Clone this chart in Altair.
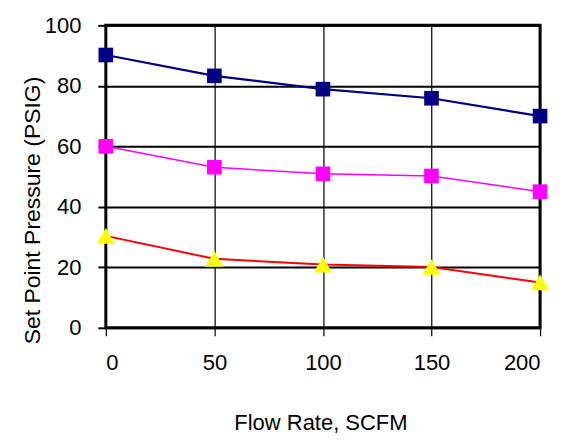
import altair as alt
import pandas as pd

flow = [0, 50, 100, 150, 200]
navy_vals = [90.2, 83.3, 78.9, 75.9, 70.0]
magenta_vals = [60.0, 53.1, 50.9, 50.2, 45.0]
red_vals = [30.4, 22.8, 20.9, 20.1, 15.0]

series = [
    ("A", navy_vals, "#000080", "#000080", "square", 2.2, 215),
    ("B", magenta_vals, "#FF00FF", "#FF00FF", "square", 1.5, 215),
    ("C", red_vals, "#FF0000", "#FFFF00", "triangle-up", 2.0, 330),
]

rows = []
for name, vals, lc, mc, shp, lw, sz in series:
    for f, v in zip(flow, vals):
        rows.append({"series": name, "flow": f, "psig": v, "lc": lc, "mc": mc,
                     "shp": shp, "lw": lw, "sz": sz})
df = pd.DataFrame(rows)

FONT = "Liberation Sans"

x = alt.X("flow:Q", scale=alt.Scale(domain=[0, 200], nice=False),
          axis=alt.Axis(values=[0, 50, 100, 150, 200], title="Flow Rate, SCFM",
                        grid=True, gridColor="black", gridWidth=1.2, gridOpacity=1,
                        domain=False, tickColor="black", tickSize=8, tickWidth=1.2,
                        labelFont=FONT, labelFontSize=22, labelColor="black", labelPadding=17,
                        titleFont=FONT, titleFontSize=22, titleFontWeight="normal", titleColor="black",
                        titleX=215, titleY=102, titleBaseline="alphabetic", titleAnchor="middle"))
y = alt.Y("psig:Q", scale=alt.Scale(domain=[0, 100], nice=False),
          axis=alt.Axis(values=[0, 20, 40, 60, 80, 100], title="Set Point Pressure (PSIG)",
                        grid=True, gridColor="black", gridWidth=2, gridOpacity=1,
                        domain=False, tickColor="black", tickSize=8, tickWidth=2,
                        labelFont=FONT, labelFontSize=22, labelColor="black", labelPadding=17,
                        titleFont=FONT, titleFontSize=23, titleFontWeight="normal", titleColor="black",
                        titleX=-73, titleY=185, titleBaseline="middle", titleAngle=-90, titleAnchor="middle"))

lines = alt.Chart(df).mark_line().encode(
    x=x, y=y, detail="series:N",
    color=alt.Color("lc:N", scale=None),
    strokeWidth=alt.StrokeWidth("lw:Q", scale=None),
)
points = alt.Chart(df).mark_point(filled=True, opacity=1).encode(
    x=x, y=y,
    fill=alt.Fill("mc:N", scale=None),
    color=alt.Color("mc:N", scale=None),
    shape=alt.Shape("shp:N", scale=None),
    size=alt.Size("sz:Q", scale=None),
)

chart = alt.layer(lines, points).properties(
    width=435, height=303,
    autosize="none",
    padding={"left": 98, "top": 17, "right": 30, "bottom": 106},
).configure_view(stroke="black", strokeWidth=3)

chart.save("out.html", embed_options={"renderer": "svg", "actions": False})
